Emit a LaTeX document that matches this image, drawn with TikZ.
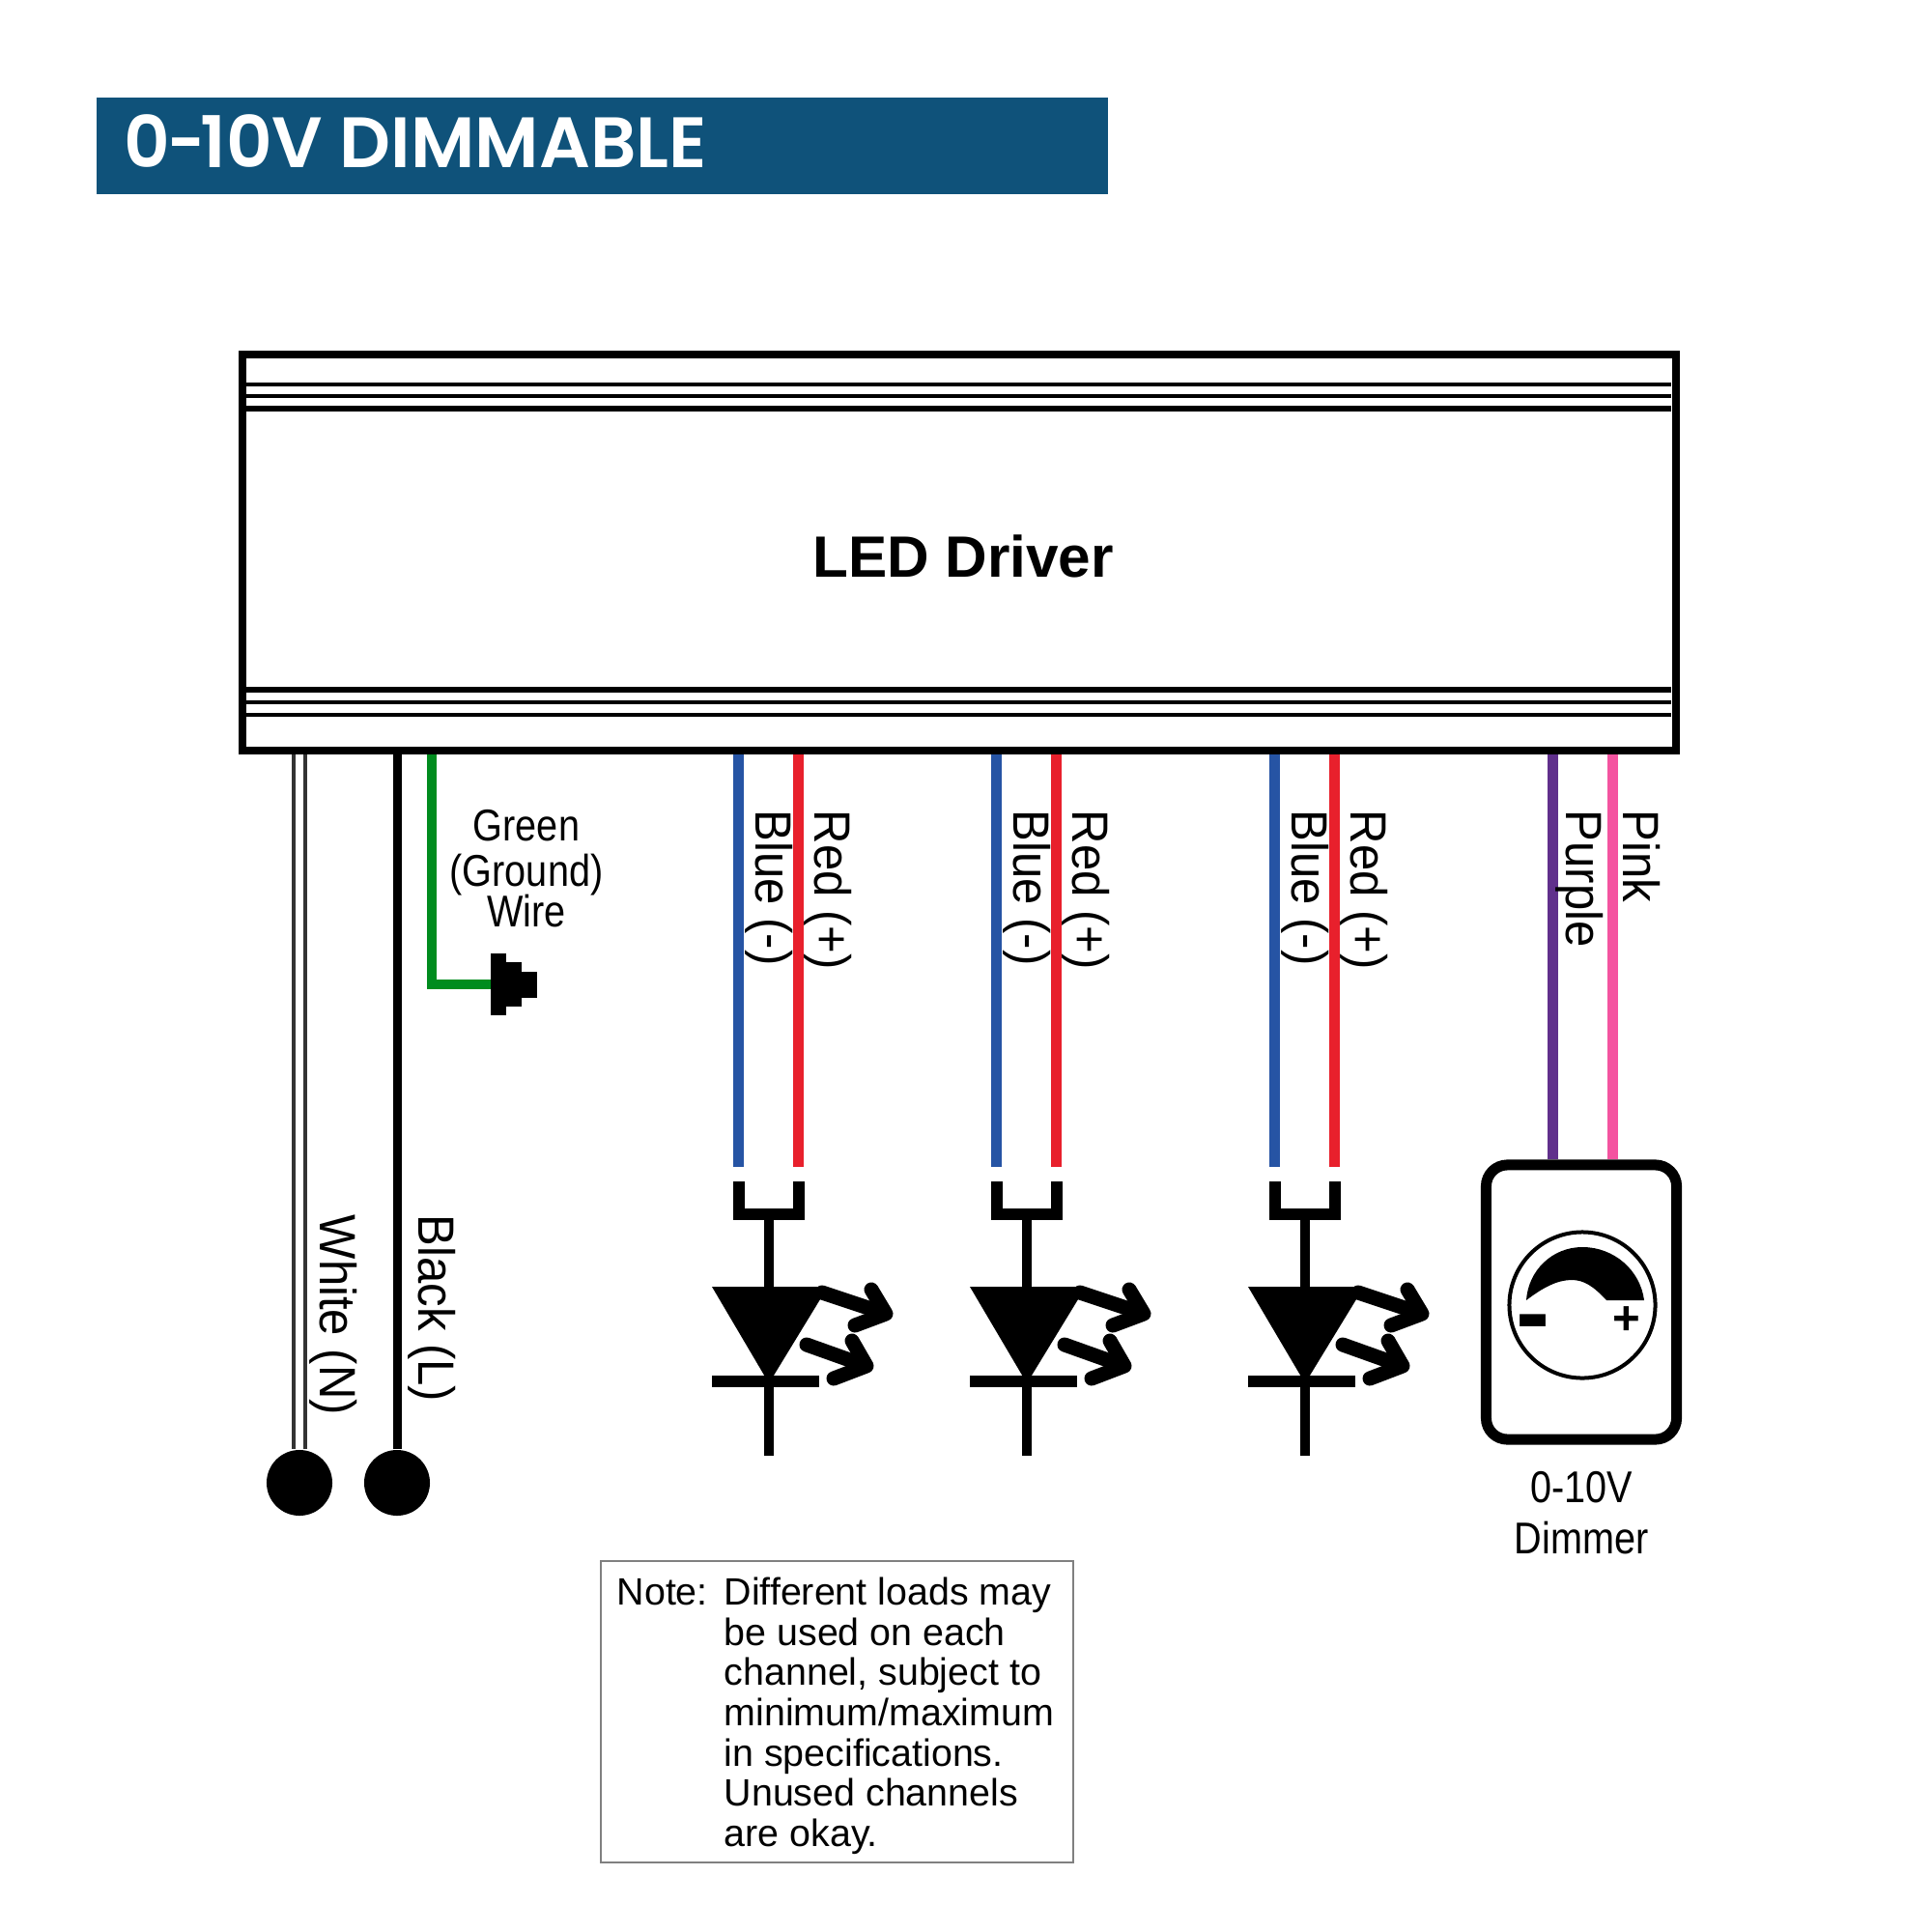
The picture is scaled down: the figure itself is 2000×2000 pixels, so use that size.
\documentclass[tikz,border=0pt]{standalone}
\usepackage{fontspec}
\usepackage{graphicx}
\usepackage{xcolor}
\setmainfont{Liberation Sans}
\newfontfamily\narrowfont[FakeStretch=0.86]{Liberation Sans}
\newfontfamily\wirefont[FakeStretch=0.93]{Liberation Sans}
\newfontfamily\titlefont{Poppins SemiBold}
\definecolor{bannerblue}{RGB}{15, 82, 122}
\definecolor{wireblue}{RGB}{38, 84, 164}
\definecolor{wirered}{RGB}{232, 32, 44}
\definecolor{wiregreen}{RGB}{0, 140, 30}
\definecolor{wirepurple}{RGB}{96, 48, 140}
\definecolor{wirepink}{RGB}{244, 84, 160}
\usetikzlibrary{positioning}

\begin{document}
\begin{tikzpicture}[x=0.01cm, y=-0.01cm,
    wirelabel/.style={rotate=-90, anchor=west, inner sep=0pt, font=\fontsize{15}{16}\wirefont},
    sidelabel/.style={inner sep=0pt, align=center, font=\fontsize{13.1}{12.4}\narrowfont},
    ball/.style={circle, fill=black, minimum size=6.8mm, inner sep=0pt},
    cablewire/.style={line width=1.1mm},
    ledpart/.style={line width=1mm},
    ledray/.style={line width=1.5mm, line join=round, line cap=round},
    gndblock/.style={fill=black, inner sep=0pt, outer sep=0pt, minimum width=1.6mm}
]
    \useasboundingbox (0,0) rectangle (2000,2000);

    % Title banner
    \node[fill=bannerblue, anchor=north west, minimum width=104.7mm, minimum height=10mm, inner sep=0pt] (banner) at (99,100) {};
    \node[text=white, anchor=base west, inner sep=0pt, font=\fontsize{21}{22}\titlefont] (bannerText) at (128,173)
        {0\kern-.5pt\scalebox{.7}[1]{–}\kern-1pt 10V DIMMABLE};

    % Driver housing
    \node[draw, line width=0.8mm, minimum width=148.4mm, minimum height=41mm, inner sep=0pt] (driver) at (993,572) {};
    \foreach \y/\w in {398/0.35mm, 410/0.35mm, 423/0.55mm, 714/0.55mm, 727/0.35mm, 740/0.35mm} {
        \draw[line width=\w] (255,\y) -- (1730,\y);
    }
    \node[anchor=base, inner sep=0pt, font=\fontsize{17.15}{19}\bfseries] (driverLabel) at (997,597) {LED Driver};

    % Mains wires
    \node[ball] (ballN) at (310,1535) {};
    \node[ball] (ballL) at (411,1535) {};
    \draw[line width=0.4mm, draw=black!80, double=white, double distance=0.8mm] (ballN |- driver.south) -- (ballN);
    \draw[line width=0.9mm] (ballL |- driver.south) -- (ballL);
    \node[wirelabel] (whiteLabel) at (345,1257) {White (N)};
    \node[wirelabel] (blackLabel) at (447,1257) {Black (L)};

    % Ground wire
    \node[gndblock, minimum height=6.3mm] (gndA) at (516,1019) {};
    \node[gndblock, minimum height=4.5mm, right=0pt of gndA] (gndB) {};
    \node[gndblock, minimum height=2.7mm, right=0pt of gndB] (gndC) {};
    \coordinate (gndTop) at (447,781);
    \draw[line width=1mm, wiregreen] (gndTop) |- (gndA.west);
    \node[sidelabel, anchor=base] (gndLabelA) at (545,870) {Green};
    \node[sidelabel, anchor=base] (gndLabelB) at (545,917) {(Ground)};
    \node[sidelabel, anchor=base] (gndLabelC) at (545,959) {Wire};

    % LED channels
    \foreach \x/\name in {796/A, 1063/B, 1351/C} {
        \coordinate (blue\name) at (\x-32,781);
        \coordinate (red\name) at (\x+30,781);
        \coordinate (blueEnd\name) at (\x-32,1208);
        \coordinate (redEnd\name) at (\x+30,1208);
        \draw[cablewire, wireblue] (blue\name) -- (blueEnd\name);
        \draw[cablewire, wirered] (red\name) -- (redEnd\name);
        \node[wirelabel] (blueLabel\name) at (\x,838) {Blue (-)};
        \node[wirelabel] (redLabel\name) at (\x+61,838) {Red (+)};
        \begin{scope}[shift={(\x,0)}]
            \draw[line width=1.2mm, miter limit=10] (-31,1223) -- (-31,1257) -- (31,1257) -- (31,1223);
            \draw[ledpart] (0,1257) -- (0,1340);
            \fill (-59,1332) -- (61,1332) -- (0,1432) -- cycle;
            \draw[line width=1.2mm] (-59,1430) -- (52,1430);
            \draw[ledpart] (0,1430) -- (0,1507);
            \draw[ledray] (55,1338) -- (115,1358);
            \draw[ledray] (106,1335) -- (121,1360) -- (89,1372);
            \draw[ledray] (39,1392) -- (95,1412);
            \draw[ledray] (86,1388) -- (101,1414) -- (67,1427);
        \end{scope}
    }

    % Dimmer
    \node[draw, line width=1.1mm, rounded corners=2.2mm, minimum width=19.7mm, minimum height=28.4mm,
        inner sep=0pt] (dimmer) at (1637,1348) {};
    \node[draw, circle, line width=0.4mm, minimum size=15.1mm, inner sep=0pt] (dial) at (1638,1351) {};
    \fill (1580,1346) .. controls (1582,1315) and (1607,1291) .. (1638,1291)
        .. controls (1671,1291) and (1698,1315) .. (1702,1346) -- (1663,1346)
        .. controls (1650,1332) and (1640,1325) .. (1627,1325)
        .. controls (1612,1325) and (1597,1333) .. (1580,1346) -- cycle;
    \node[inner sep=0pt, font=\fontsize{30}{30}\bfseries] (dialMinus) at (1587,1378) {-};
    \node[inner sep=0pt, font=\fontsize{14}{14}\bfseries] (dialPlus) at (1684,1367) {+};
    \coordinate (purpleTop) at (1607,781);
    \coordinate (pinkTop) at (1669,781);
    \draw[cablewire, wirepurple] (purpleTop) -- (purpleTop |- dimmer.north);
    \draw[cablewire, wirepink] (pinkTop) -- (pinkTop |- dimmer.north);
    \node[wirelabel] (purpleLabel) at (1635,838) {Purple};
    \node[wirelabel] (pinkLabel) at (1700,838) {Pink};
    \node[sidelabel, anchor=base] (dimmerLabelA) at (1637,1555) {0-10V};
    \node[sidelabel, anchor=base] (dimmerLabelB) at (1637,1608) {Dimmer};

    % Note
    \node[draw=gray, line width=0.2mm, anchor=north west, minimum width=48.9mm, minimum height=31.2mm,
        inner sep=0pt] (noteBox) at (621,1615) {};
    \node[anchor=base west, inner sep=0pt, font=\fontsize{11.2}{11.9}\selectfont] (noteHead) at (638,1661) {Note:};
    \node[anchor=north west, inner sep=0pt, align=left, font=\fontsize{11.2}{11.87}\selectfont] (noteBody) at (749,1632)
        {Different loads may\\be used on each\\channel, subject to\\minimum/maximum\\in specifications.\\Unused channels\\are okay.};
\end{tikzpicture}
\end{document}
